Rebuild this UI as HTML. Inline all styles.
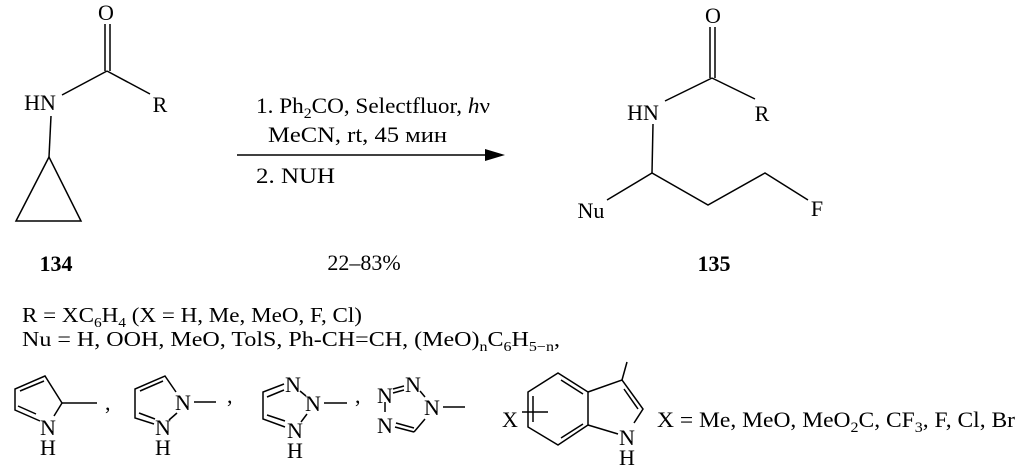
<!DOCTYPE html>
<html><head><meta charset="utf-8"><style>
body{margin:0;background:#fff}
svg{display:block}
text{font-family:"Liberation Serif","DejaVu Serif",serif;font-size:22px;fill:#000}
.m{text-anchor:middle}
.s{font-size:21px}
.b{font-weight:bold}
</style></head><body>
<svg width="1025" height="472" viewBox="0 0 1025 472" xmlns="http://www.w3.org/2000/svg">
<g stroke="#000" stroke-width="1.5" fill="none">
<line x1="105" y1="24" x2="105" y2="71"/><line x1="110" y1="24" x2="110" y2="71"/>
<line x1="62" y1="95" x2="107" y2="71"/><line x1="107" y1="71" x2="150" y2="94"/>
<line x1="51" y1="116" x2="49" y2="157"/>
<polygon points="49,157 16,221 81,221"/>
<line x1="237" y1="155" x2="495" y2="155"/>
<line x1="710" y1="27" x2="710" y2="78"/><line x1="715" y1="27" x2="715" y2="78"/>
<line x1="665" y1="101" x2="712" y2="78"/><line x1="712" y1="78" x2="755" y2="99"/>
<line x1="653" y1="124" x2="652" y2="173"/>
<polyline points="607,200 652,173 708,205 765,173 808,200"/>
<polyline points="40,421 15,410 15,389 45,376 62,403 54,416"/>
<line x1="20" y1="391" x2="44" y2="381"/><line x1="18" y1="406" x2="36" y2="414"/>
<line x1="62" y1="403" x2="97" y2="403"/>
<polyline points="154,424 135,418 135,389 165,376 176,392"/>
<line x1="140" y1="391" x2="163" y2="381"/><line x1="139" y1="413" x2="155" y2="419"/>
<line x1="177" y1="413" x2="169" y2="420"/>
<line x1="194" y1="402" x2="216" y2="402"/>
<polyline points="284,384 263,392 263,419 285,427"/>
<line x1="267" y1="397" x2="284" y2="390"/><line x1="267" y1="415" x2="285" y2="421"/>
<line x1="300" y1="391" x2="306" y2="396"/><line x1="307" y1="414" x2="301" y2="422"/>
<line x1="324" y1="403" x2="347" y2="403"/>
<line x1="393" y1="389" x2="404" y2="386"/><line x1="393" y1="393" x2="404" y2="390"/>
<line x1="420" y1="391" x2="425" y2="397"/>
<line x1="385" y1="402" x2="385" y2="412"/>
<line x1="395" y1="427" x2="414" y2="432"/><line x1="396" y1="423" x2="414" y2="428"/>
<line x1="414" y1="432" x2="425" y2="419"/>
<line x1="443" y1="407" x2="465" y2="407"/>
<polygon points="558,373 588,392 588,425 558,445 528,427 528,392"/>
<line x1="561" y1="380" x2="583" y2="394"/><line x1="561" y1="438" x2="583" y2="424"/><line x1="533" y1="396" x2="533" y2="422"/>
<polyline points="588,392 622,380 643,409 634,423"/>
<line x1="588" y1="425" x2="618" y2="434"/>
<line x1="624" y1="389" x2="638" y2="409"/>
<line x1="622" y1="380" x2="627" y2="362"/>
<line x1="522" y1="412" x2="548" y2="412"/>
</g>
<polygon points="505,155 485,149 485,161" fill="#000"/>
<text class="m" x="106" y="20">O</text>
<text class="m" x="40" y="110">HN</text>
<text class="m" x="160" y="112">R</text>
<text class="m b" x="56" y="271">134</text>
<text x="256" y="113" textLength="234" lengthAdjust="spacingAndGlyphs">1. Ph<tspan font-size="15" dy="5">2</tspan><tspan dy="-5">CO, Selectfluor, </tspan><tspan font-style="italic">h</tspan>ν</text>
<text x="268" y="142" textLength="179" lengthAdjust="spacingAndGlyphs">MeCN, rt, 45 мин</text>
<text x="256" y="183" textLength="79" lengthAdjust="spacingAndGlyphs">2. NUH</text>
<text class="m" x="364" y="270">22–83%</text>
<text class="m" x="713" y="23">O</text>
<text class="m" x="643" y="120">HN</text>
<text class="m" x="762" y="121">R</text>
<text class="m" x="591" y="218">Nu</text>
<text class="m" x="817" y="216">F</text>
<text class="m b" x="714" y="271">135</text>
<text class="s" x="22" y="322" textLength="340" lengthAdjust="spacingAndGlyphs">R = XC<tspan font-size="14" dy="5">6</tspan><tspan dy="-5">H</tspan><tspan font-size="14" dy="5">4</tspan><tspan dy="-5"> (X = H, Me, MeO, F, Cl)</tspan></text>
<text class="s" x="22" y="346" textLength="538" lengthAdjust="spacingAndGlyphs">Nu = H, OOH, MeO, TolS, Ph-CH=CH, (MeO)<tspan font-size="14" dy="5">n</tspan><tspan dy="-5">C</tspan><tspan font-size="14" dy="5">6</tspan><tspan dy="-5">H</tspan><tspan font-size="14" dy="5">5−n</tspan><tspan dy="-5">,</tspan></text>
<text class="m" x="48" y="435">N</text><text class="m" x="48" y="455">H</text>
<text x="105" y="410">,</text>
<text class="m" x="183" y="410">N</text><text class="m" x="163" y="435">N</text><text class="m" x="163" y="455">H</text>
<text x="227" y="403">,</text>
<text class="m" x="293" y="392">N</text><text class="m" x="313" y="411">N</text><text class="m" x="295" y="438">N</text><text class="m" x="295" y="458">H</text>
<text x="355" y="403">,</text>
<text class="m" x="385" y="403">N</text><text class="m" x="413" y="392">N</text><text class="m" x="432" y="415">N</text><text class="m" x="385" y="433">N</text>
<text class="m" x="510" y="427">X</text>
<text class="m" x="627" y="445">N</text><text class="m" x="627" y="465">H</text>
<text x="657" y="427" textLength="358" lengthAdjust="spacingAndGlyphs">X = Me, MeO, MeO<tspan font-size="15" dy="5">2</tspan><tspan dy="-5">C, CF</tspan><tspan font-size="15" dy="5">3</tspan><tspan dy="-5">, F, Cl, Br</tspan></text>
</svg>
</body></html>
